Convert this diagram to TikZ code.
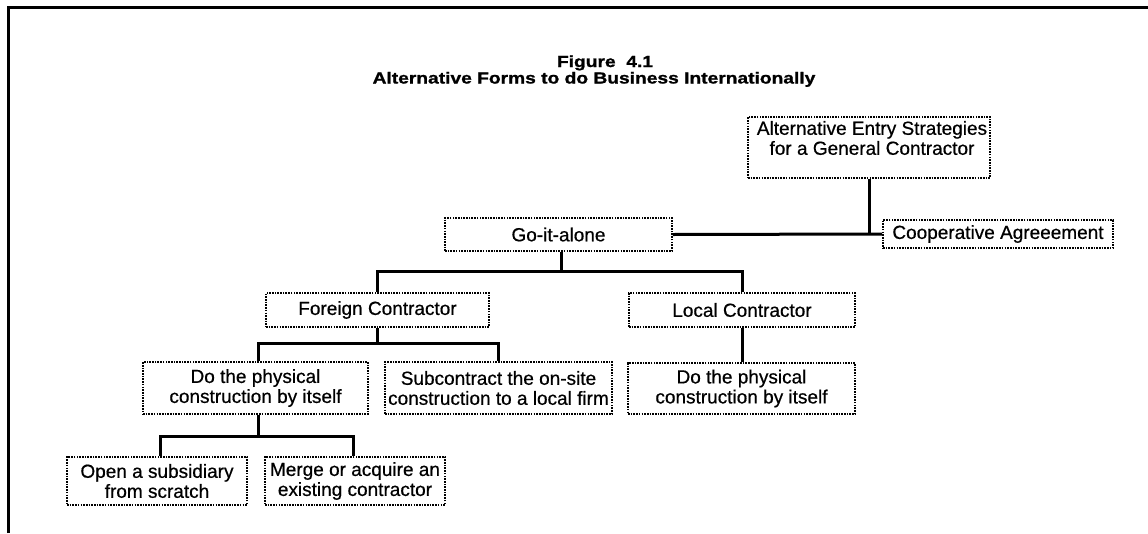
\documentclass[tikz,border=0pt]{standalone}
\usepackage{fontspec}
\setmainfont{Liberation Sans}
\newfontfamily\titlefont[FakeStretch=1.2,FakeBold=1.2]{Liberation Sans Bold}
\newfontfamily\boxfont[FakeBold=0.6]{Liberation Sans}
\begin{document}
\begin{tikzpicture}[x=1pt,y=-1pt,
  box/.style={draw, dash pattern=on 1.6pt off 1.1pt, line width=1.6pt, inner sep=0pt, align=center, font=\boxfont\fontsize{19}{20}\selectfont},
  boxtext/.style={inner sep=0pt, align=center, font=\boxfont\fontsize{19}{20}\selectfont},
  conn/.style={line width=3pt},
  ttl/.style={font=\titlefont\fontsize{16}{16}\selectfont, anchor=base, inner sep=0pt}]
\useasboundingbox (0,0) rectangle (1148,533);
\draw[line width=3pt] (8,533) -- (8,7) -- (1148,7);

\node[ttl] (t1) at (605,67) {Figure\ \ 4.1};
\node[ttl] (t2) at (594,83.5) {Alternative Forms to do Business Internationally};

\node[box, minimum width=242pt, minimum height=61pt] (top) at (869,147.5) {};
\node[boxtext] (toptext) at (872,138) {Alternative Entry Strategies\\for a General Contractor};
\node[box, minimum width=230pt, minimum height=28pt] (coop) at (998,234) {Cooperative Agreeement};
\node[box, minimum width=227pt, minimum height=33pt] (go) at (558.5,234.5) {Go-it-alone};
\node[box, minimum width=223pt, minimum height=34pt] (foreign) at (377.5,310) {Foreign Contractor};
\node[box, minimum width=226pt, minimum height=34pt] (local) at (742,310) {Local Contractor};
\node[box, minimum width=225pt, minimum height=52pt] (ldo) at (255.5,388) {Do the physical\\construction by itself};
\node[box, minimum width=227pt, minimum height=52pt] (sub) at (498.5,388) {Subcontract the on-site\\construction to a local firm};
\node[box, minimum width=227pt, minimum height=51pt] (rdo) at (741.5,388.5) {Do the physical\\construction by itself};
\node[box, minimum width=180pt, minimum height=48pt] (open) at (157,481) {Open a subsidiary\\from scratch};
\node[box, minimum width=180pt, minimum height=48pt] (merge) at (355,481) {Merge or acquire an\\existing contractor};

\draw[conn] (go.east) -- (coop.west);
\draw[conn] (top.south) -- (top.south |- coop.west);
\draw[conn] ([xshift=3pt]go.south) -- ++(0,20) coordinate (j1);
\draw[conn] (foreign.north) |- (j1) -| (local.north);
\draw[conn] (foreign.south) -- ++(0,16) coordinate (j2);
\draw[conn] ([xshift=2.5pt]ldo.north) |- (j2) -| (sub.north);
\draw[conn] (local.south) -- (local.south |- rdo.north);
\draw[conn] ([xshift=2.5pt]ldo.south) -- ++(0,22) coordinate (j3);
\draw[conn] ([xshift=3pt]open.north) |- (j3) -| ([xshift=-2pt]merge.north);
\end{tikzpicture}
\end{document}
